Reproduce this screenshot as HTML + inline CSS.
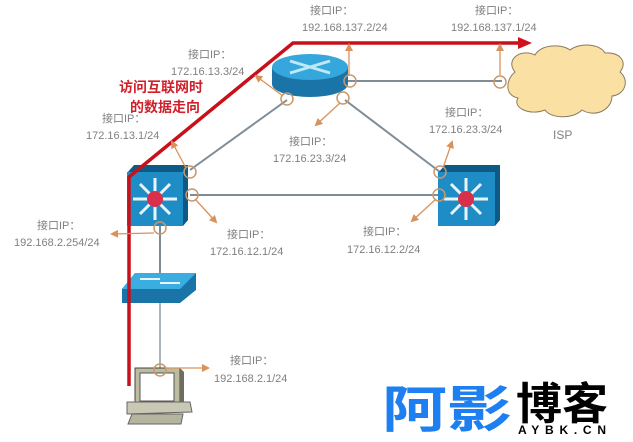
<!DOCTYPE html>
<html><head><meta charset="utf-8"><style>
html,body{margin:0;padding:0;background:#fff;width:633px;height:442px;overflow:hidden}
svg text{font-family:"Liberation Sans","Noto Sans CJK SC",sans-serif}
.l{font-size:11px;fill:#808080}
</style></head><body>
<svg width="633" height="442" viewBox="0 0 633 442" xmlns="http://www.w3.org/2000/svg">
<defs>
<marker id="oa" markerWidth="8" markerHeight="8" refX="6" refY="4" orient="auto" markerUnits="userSpaceOnUse"><path d="M0,0 L8,4 L0,8 Z" fill="#d9925a"/></marker>
<marker id="ra" markerWidth="14" markerHeight="14" refX="4" refY="7" orient="auto" markerUnits="userSpaceOnUse"><path d="M0,1 L14,7 L0,13 Z" fill="#d0101a"/></marker>
</defs>
<g stroke="#7f8c96" stroke-width="2" fill="none">
<line x1="287" y1="100" x2="190" y2="170"/>
<line x1="345" y1="100" x2="440" y2="172"/>
<line x1="190" y1="195" x2="440" y2="195"/>
<line x1="348" y1="81" x2="502" y2="81"/>
<line x1="160" y1="226" x2="160" y2="275"/>
<line x1="160" y1="303" x2="160" y2="370" stroke-width="1.3"/>
</g>
<path d="M515,72 C505,60 520,48 535,55 C540,45 560,43 570,50 C580,42 600,44 605,53 C620,52 628,62 620,72 C630,80 625,95 612,96 C612,110 595,118 582,110 C572,120 550,118 545,110 C530,116 512,108 518,98 C505,96 505,80 515,72 Z" fill="#fbe0a4" stroke="#8a7a60" stroke-width="1"/>
<text x="553" y="139" font-size="12" fill="#808080">ISP</text>
<path d="M272,67 L272,84 A38,13 0 0 0 348,84 L348,67 Z" fill="#1a74a8"/>
<ellipse cx="310" cy="67" rx="38" ry="13" fill="#35a7dc"/>
<g stroke="#bfe8f8" stroke-width="3" fill="none">
<line x1="290" y1="61" x2="330" y2="73"/><line x1="290" y1="73" x2="330" y2="61"/>
</g>
<path d="M127,173 L134,165 L188,165 L188,220 L183,226 Z" fill="#0d5a86"/>
<rect x="127" y="172" width="56" height="54" fill="#1f8dc5"/>
<g stroke="#e8f4fb" stroke-width="3">
<line x1="155" y1="178" x2="155" y2="220"/><line x1="133" y1="199" x2="177" y2="199"/>
<line x1="140" y1="184" x2="170" y2="214"/><line x1="170" y1="184" x2="140" y2="214"/>
</g>
<circle cx="155" cy="199" r="8" fill="#d8304a"/>
<path d="M438,173 L445,165 L500,165 L500,220 L495,226 Z" fill="#0d5a86"/>
<rect x="438" y="172" width="57" height="54" fill="#1f8dc5"/>
<g stroke="#e8f4fb" stroke-width="3">
<line x1="466" y1="178" x2="466" y2="220"/><line x1="444" y1="199" x2="488" y2="199"/>
<line x1="451" y1="184" x2="481" y2="214"/><line x1="481" y1="184" x2="451" y2="214"/>
</g>
<circle cx="466" cy="199" r="8" fill="#d8304a"/>
<path d="M122,289 L135,273 L196,273 L196,290 L180,303 L122,303 Z" fill="#1a74a8"/>
<path d="M122,289 L135,273 L196,273 L180,289 Z" fill="#3aaee0"/>
<g stroke="#e8f4fb" stroke-width="2"><line x1="140" y1="279" x2="160" y2="279"/><line x1="160" y1="283" x2="180" y2="283"/></g>
<rect x="135" y="368" width="45" height="38" fill="#bdbba0" stroke="#444" stroke-width="1"/>
<path d="M180,368 L184,372 L184,406 L180,406 Z" fill="#6f6e5e"/>
<rect x="140" y="373" width="34" height="28" fill="#fff" stroke="#555"/>
<path d="M127,402 L190,402 L192,412 L127,414 Z" fill="#c9c8b4" stroke="#666" stroke-width="1"/>
<path d="M132,414 L183,414 L181,424 L128,424 Z" fill="#b5b49f" stroke="#666" stroke-width="1"/>
<path d="M129,386 L129,177 L293,43 L522,43" fill="none" stroke="#c8101a" stroke-width="3.5" marker-end="url(#ra)"/>
<g fill="none" stroke="#c8986a" stroke-width="1.5">
<circle cx="190" cy="172" r="6"/><circle cx="192" cy="195" r="6"/><circle cx="160" cy="228" r="6"/>
<circle cx="160" cy="370" r="6"/><circle cx="287" cy="99" r="6"/><circle cx="343" cy="98" r="6"/>
<circle cx="350" cy="81" r="6"/><circle cx="500" cy="82" r="6"/><circle cx="440" cy="172" r="6"/><circle cx="439" cy="195" r="6"/>
</g>
<g stroke="#d9925a" stroke-width="1.3" marker-end="url(#oa)">
<line x1="283" y1="96" x2="256" y2="76"/><line x1="349" y1="75" x2="349" y2="45"/>
<line x1="500" y1="75" x2="500" y2="45"/><line x1="186" y1="168" x2="172" y2="142"/>
<line x1="340" y1="103" x2="316" y2="125"/><line x1="443" y1="168" x2="452" y2="142"/>
<line x1="436" y1="199" x2="412" y2="221"/><line x1="195" y1="199" x2="216" y2="222"/>
<line x1="154" y1="233" x2="112" y2="234"/><line x1="166" y1="368" x2="208" y2="368"/>
</g>
<g class="l">
<text x="310" y="14">接口IP：</text><text x="302" y="31">192.168.137.2/24</text>
<text x="475" y="14">接口IP：</text><text x="451" y="31">192.168.137.1/24</text>
<text x="188" y="58">接口IP：</text><text x="171" y="75">172.16.13.3/24</text>
<text x="102" y="122">接口IP：</text><text x="86" y="139">172.16.13.1/24</text>
<text x="289" y="145">接口IP：</text><text x="273" y="162">172.16.23.3/24</text>
<text x="445" y="116">接口IP：</text><text x="429" y="133">172.16.23.3/24</text>
<text x="227" y="238">接口IP：</text><text x="210" y="255">172.16.12.1/24</text>
<text x="363" y="235">接口IP：</text><text x="347" y="253">172.16.12.2/24</text>
<text x="37" y="229">接口IP：</text><text x="14" y="246">192.168.2.254/24</text>
<text x="230" y="364">接口IP：</text><text x="214" y="382">192.168.2.1/24</text>
</g>
<text x="119" y="92" font-size="14" font-weight="bold" fill="#d0202a">访问互联网时</text>
<text x="130" y="112" font-size="14" font-weight="bold" fill="#d0202a">的数据走向</text>
<text x="382" y="427" font-size="50" font-weight="bold" fill="#1e80f0" textLength="130" lengthAdjust="spacingAndGlyphs" style="font-family:'Noto Sans CJK SC',sans-serif">阿影</text>
<text x="516" y="419" font-size="44" font-weight="bold" fill="#000" textLength="92" lengthAdjust="spacingAndGlyphs" style="font-family:'Noto Sans CJK SC',sans-serif">博客</text>
<text x="518" y="434" font-size="12" font-weight="bold" fill="#000" textLength="88" lengthAdjust="spacing">AYBK.CN</text>
</svg>
</body></html>
